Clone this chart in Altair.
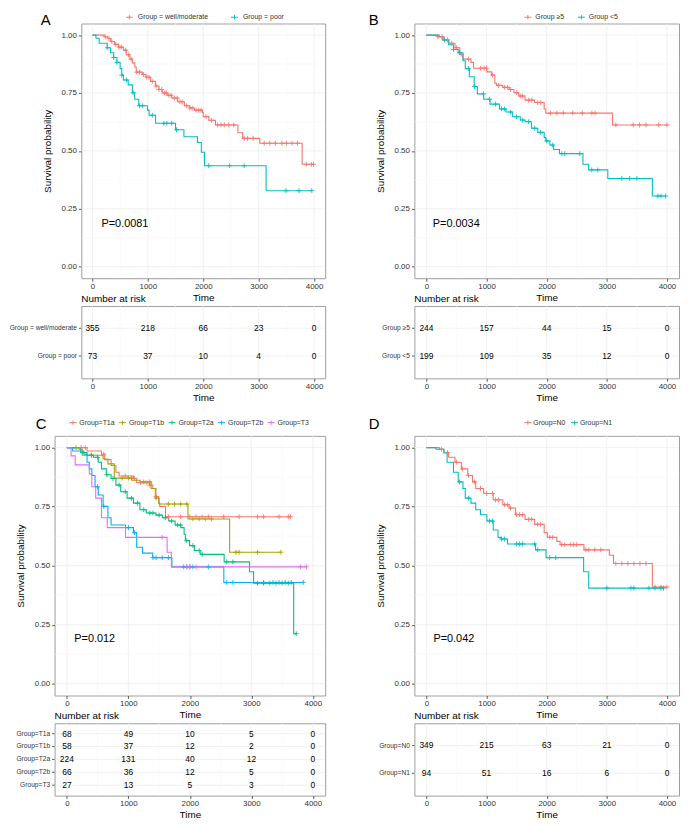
import altair as alt
import pandas as pd

FONT = "Liberation Sans"
FRAME = "#9E9E9E"
GRID_MAJ = "#EDEDED"
GRID_MIN = "#F6F6F6"
TXT = "#333333"

X_TICKS = [0, 1000, 2000, 3000, 4000]
X_MINOR = [500, 1500, 2500, 3500]
Y_TICKS = [0.0, 0.25, 0.5, 0.75, 1.0]
Y_MINOR = [0.125, 0.375, 0.625, 0.875]
X_DOMAIN = [-200, 4200]
Y_DOMAIN = [-0.05, 1.05]

RED = "#F8766D"
TEAL = "#00BFC4"
C_COLORS = ["#F8766D", "#A3A500", "#00BF7D", "#00B0F6", "#E76BF3"]

# ---------------- Panel A ----------------
A_groups = ["Group = well/moderate", "Group = poor"]
A_t1 = [0, 210, 280, 330, 400, 470, 560, 610, 675, 720, 765, 790, 900, 965, 1050, 1140, 1200, 1260,
        1350, 1430, 1540, 1660, 1750, 1840, 1985, 2000, 2100, 2220, 2625, 2710, 3020, 3785, 3990]
A_s1 = [1.0, 0.993, 0.985, 0.972, 0.960, 0.948, 0.935, 0.915, 0.896, 0.880, 0.862, 0.840, 0.830, 0.818,
        0.800, 0.780, 0.765, 0.750, 0.740, 0.728, 0.712, 0.695, 0.685, 0.676, 0.665, 0.648, 0.632, 0.612,
        0.578, 0.554, 0.533, 0.442, 0.442]
A_t2 = [0, 64, 122, 267, 326, 384, 442, 500, 529, 558, 645, 721, 762, 837, 994, 1023, 1140, 1500, 1651,
        1895, 1965, 2023, 3134, 3959]
A_s2 = [1.0, 0.986, 0.965, 0.945, 0.924, 0.903, 0.882, 0.855, 0.827, 0.806, 0.785, 0.751, 0.723, 0.695,
        0.675, 0.654, 0.619, 0.591, 0.561, 0.536, 0.494, 0.436, 0.328, 0.328]
A_c1 = [230, 300, 350, 420, 480, 520, 600, 650, 700, 800, 850, 920, 980, 1020, 1080, 1150, 1200, 1250,
        1300, 1330, 1380, 1420, 1480, 1530, 1580, 1620, 1700, 1760, 1800, 1870, 1920, 1960, 2050, 2150,
        2260, 2320, 2380, 2460, 2550, 2740, 2800, 2900, 3100, 3200, 3300, 3420, 3500, 3600, 3700, 3860,
        3950, 3990]
A_c2 = [267, 384, 442, 529, 616, 733, 849, 907, 1081, 1291, 1343, 1430, 1517, 2099, 2477, 2738, 3494,
        3727, 3959]
A_risk = [[355, 218, 66, 23, 0], [73, 37, 10, 4, 0]]

# ---------------- Panel B ----------------
B_groups = ["Group \u22655", "Group <5"]
B_t1 = [0, 185, 265, 370, 476, 556, 608, 741, 783, 1005, 1085, 1138, 1164, 1270, 1376, 1455, 1534, 1640,
        1799, 1958, 1985, 3095, 4000]
B_s1 = [1.0, 0.993, 0.979, 0.965, 0.945, 0.917, 0.896, 0.882, 0.857, 0.841, 0.827, 0.792, 0.783, 0.774,
        0.765, 0.751, 0.737, 0.719, 0.709, 0.681, 0.663, 0.612, 0.612]
B_t2 = [0, 212, 291, 370, 450, 529, 608, 646, 714, 794, 847, 952, 1058, 1217, 1323, 1429, 1561, 1640,
        1746, 1852, 1958, 1985, 2053, 2116, 2212, 2603, 2698, 3016, 3757, 3979]
B_s2 = [1.0, 0.993, 0.979, 0.958, 0.938, 0.924, 0.889, 0.855, 0.820, 0.778, 0.746, 0.723, 0.702, 0.681,
        0.668, 0.647, 0.633, 0.626, 0.598, 0.580, 0.557, 0.543, 0.525, 0.506, 0.488, 0.442, 0.418, 0.381,
        0.305, 0.305]
B_c1 = [190, 260, 350, 420, 500, 580, 700, 900, 960, 1000, 1100, 1200, 1300, 1350, 1400, 1500, 1560,
        1600, 1700, 1750, 1850, 1900, 2063, 2169, 2275, 2434, 2593, 2751, 2804, 3150, 3439, 3545, 3651,
        3862, 4000]
B_c2 = [300, 450, 550, 700, 800, 950, 1050, 1150, 1250, 1300, 1400, 1500, 1600, 1700, 1800, 1900, 2000,
        2100, 2250, 2300, 2550, 2750, 2850, 3250, 3380, 3500, 3850, 3900, 3979]
B_risk = [[244, 157, 44, 15, 0], [199, 109, 35, 12, 0]]

# ---------------- Panel C ----------------
C_groups = ["Group=T1a", "Group=T1b", "Group=T2a", "Group=T2b", "Group=T3"]
C_t1 = [0, 328, 563, 615, 719, 797, 849, 1083, 1135, 1344, 1396, 1448, 1490, 1510, 1604, 3635]
C_s1 = [1.0, 0.986, 0.972, 0.949, 0.924, 0.896, 0.880, 0.869, 0.851, 0.841, 0.827, 0.793, 0.765, 0.751,
        0.707, 0.707]
C_t2 = [0, 198, 250, 589, 667, 771, 1057, 1188, 1370, 1438, 1500, 1969, 2646, 3479]
C_s2 = [1.0, 0.993, 0.968, 0.952, 0.931, 0.871, 0.862, 0.855, 0.827, 0.786, 0.761, 0.698, 0.557, 0.557]
C_t3 = [0, 224, 328, 432, 510, 563, 641, 719, 797, 875, 979, 1083, 1188, 1292, 1448, 1552, 1656, 1760,
        1854, 1906, 1927, 1995, 2073, 2167, 2557, 2969, 3036, 3688, 3729]
C_s3 = [1.0, 0.979, 0.968, 0.959, 0.938, 0.910, 0.885, 0.869, 0.841, 0.813, 0.786, 0.765, 0.737, 0.723,
        0.714, 0.703, 0.689, 0.672, 0.661, 0.633, 0.606, 0.585, 0.564, 0.548, 0.516, 0.474, 0.426, 0.212,
        0.212]
C_t4 = [0, 94, 276, 328, 365, 406, 458, 510, 589, 667, 719, 953, 1083, 1135, 1229, 1396, 1708, 2552, 3844]
C_s4 = [1.0, 0.986, 0.972, 0.938, 0.910, 0.882, 0.834, 0.799, 0.751, 0.703, 0.672, 0.661, 0.640, 0.578,
        0.553, 0.534, 0.495, 0.429, 0.429]
C_t5 = [0, 68, 135, 365, 406, 469, 563, 656, 953, 1630, 1698, 3896]
C_s5 = [1.0, 0.965, 0.927, 0.889, 0.834, 0.786, 0.703, 0.661, 0.620, 0.557, 0.495, 0.495]
C_c1 = [230, 300, 600, 950, 1100, 1200, 1300, 1350, 1450, 1650, 1850, 2000, 2100, 2200, 2300, 2550,
        2800, 3100, 3200, 3450, 3600, 3635]
C_c2 = [150, 400, 900, 1000, 1050, 1250, 1350, 1450, 1650, 1750, 1850, 1950, 2050, 2150, 2250, 2350,
        2750, 2800, 3100, 3479]
C_c3 = [400, 500, 650, 750, 850, 950, 1050, 1150, 1250, 1350, 1400, 1500, 1600, 1700, 1800, 1850, 1950,
        2050, 2150, 2200, 2600, 2700, 3100, 3200, 3300, 3400, 3500, 3600, 3729]
C_c4 = [500, 600, 1000, 1100, 1400, 1450, 1550, 1650, 1900, 1950, 2000, 2050, 2300, 2600, 2700, 3200,
        3350, 3450, 3550, 3650, 3844]
C_c5 = [1550, 1950, 2000, 2100, 3800, 3896]
C_risk = [[68, 49, 10, 5, 0], [58, 37, 12, 2, 0], [224, 131, 40, 12, 0], [66, 36, 12, 5, 0],
          [27, 13, 5, 3, 0]]

# ---------------- Panel D ----------------
D_groups = ["Group=N0", "Group=N1"]
D_t1 = [0, 212, 291, 370, 476, 582, 688, 767, 820, 952, 1111, 1270, 1376, 1481, 1640, 1799, 1958, 2011,
        2169, 2222, 2619, 3042, 3111, 3757, 4000]
D_s1 = [1.0, 0.993, 0.979, 0.959, 0.938, 0.910, 0.882, 0.855, 0.827, 0.806, 0.779, 0.758, 0.744, 0.716,
        0.696, 0.675, 0.640, 0.620, 0.603, 0.589, 0.567, 0.544, 0.509, 0.409, 0.409]
D_t2 = [0, 159, 291, 344, 450, 529, 608, 646, 741, 820, 899, 1005, 1111, 1190, 1243, 1349, 1815, 1989,
        2614, 2698, 3942]
D_s2 = [1.0, 0.993, 0.979, 0.938, 0.896, 0.855, 0.827, 0.786, 0.765, 0.737, 0.716, 0.689, 0.651, 0.620,
        0.613, 0.592, 0.567, 0.534, 0.474, 0.405, 0.405]
D_c1 = [250, 350, 500, 600, 700, 800, 900, 1000, 1100, 1150, 1200, 1300, 1350, 1400, 1500, 1550, 1600,
        1700, 1750, 1850, 1900, 2050, 2100, 2250, 2300, 2400, 2450, 2500, 2650, 2700, 2800, 2900, 3150,
        3250, 3350, 3450, 3550, 3650, 3800, 3900, 4000]
D_c2 = [550, 700, 1050, 1100, 1250, 1300, 1500, 1550, 1600, 1800, 1850, 2050, 2150, 3000, 3400, 3450,
        3700, 3800, 3900, 3942]
D_risk = [[349, 215, 63, 21, 0], [94, 51, 16, 6, 0]]

CROSS = "M-1,0L1,0M0,-1L0,1"
KEY = "M-1,0L1,0M0,-0.6L0,0.6"


def step_at(ts, ss, t):
    v = ss[0]
    for ti, si in zip(ts, ss):
        if ti <= t:
            v = si
    return v


def indep(ch):
    return ch.resolve_scale(color="independent", x="independent", y="independent").resolve_legend(
        color="independent").resolve_axis(x="independent", y="independent")


def x_axis():
    return alt.Axis(values=X_TICKS, title="Time", grid=False, domain=False, format="d",
                    labelFontSize=8, titleFontSize=10, labelColor=TXT, titleColor="#000",
                    tickColor=TXT, tickSize=3, tickWidth=0.8, labelPadding=1, titlePadding=2,
                    titleFontWeight="normal", labelFont=FONT, titleFont=FONT)


def km_chart(key, groups, colors, T, S, C, w, h, leg_x, leg_y, col_pad, lab_off,
             pval, pt, ps, letter, lx, ly):
    gf = "grp" + key
    line_rows, cen_rows = [], []
    for g, ts, ss, cs in zip(groups, T, S, C):
        for t, s in zip(ts, ss):
            line_rows.append({gf: g, "t": t, "s": s})
        for c in cs:
            cen_rows.append({gf: g, "t": c, "s": step_at(ts, ss, c)})
    xs = alt.Scale(domain=X_DOMAIN, nice=False, zero=False)
    ys = alt.Scale(domain=Y_DOMAIN, nice=False, zero=False)
    cscale = alt.Scale(domain=groups, range=colors)
    ya = alt.Axis(values=Y_TICKS, format=".2f", title="Survival probability", grid=False,
                  domain=False, labelFontSize=8, titleFontSize=10, labelColor=TXT,
                  titleColor="#000", tickColor=TXT, tickSize=3, tickWidth=0.8, labelPadding=2,
                  titlePadding=9, titleFontWeight="normal", labelFont=FONT, titleFont=FONT)
    leg = alt.Legend(orient="none", legendX=leg_x, legendY=leg_y, direction="horizontal",
                     title=None, symbolType=KEY, symbolSize=50,
                     symbolStrokeWidth=1, symbolOpacity=1, labelFontSize=7, labelFont=FONT,
                     labelColor=TXT, columnPadding=col_pad, labelOffset=lab_off, padding=0)
    X = alt.X("t:Q", scale=xs, axis=x_axis())
    Y = alt.Y("s:Q", scale=ys, axis=ya)
    col = alt.Color(gf + ":N", scale=cscale, legend=leg)

    gx_min = alt.Chart(pd.DataFrame({"t": X_MINOR})).mark_rule(color=GRID_MIN, strokeWidth=0.6).encode(x=X)
    gx_maj = alt.Chart(pd.DataFrame({"t": X_TICKS})).mark_rule(color=GRID_MAJ, strokeWidth=0.8).encode(x=X)
    gy_min = alt.Chart(pd.DataFrame({"s": Y_MINOR})).mark_rule(color=GRID_MIN, strokeWidth=0.6).encode(y=Y)
    gy_maj = alt.Chart(pd.DataFrame({"s": Y_TICKS})).mark_rule(color=GRID_MAJ, strokeWidth=0.8).encode(y=Y)
    lines = alt.Chart(pd.DataFrame(line_rows)).mark_line(
        interpolate="step-after", strokeWidth=1.1).encode(x=X, y=Y, color=col)
    pts = alt.Chart(pd.DataFrame(cen_rows)).mark_point(
        shape=CROSS, size=24, strokeWidth=0.9, filled=False, opacity=1).encode(x=X, y=Y, color=col)
    ptxt = alt.Chart(pd.DataFrame({"t": [pt], "s": [ps], "label": [pval]})).mark_text(
        align="left", baseline="middle", fontSize=11, font=FONT, color="#000").encode(
        x=X, y=Y, text="label:N")
    let = alt.Chart(pd.DataFrame({"label": [letter]})).mark_text(
        align="left", baseline="alphabetic", fontSize=15, font=FONT, color="#000").encode(
        x=alt.value(lx), y=alt.value(ly), text="label:N")
    return alt.layer(gx_min, gx_maj, gy_min, gy_maj, lines, pts, ptxt, let).properties(
        width=w, height=h)


def risk_chart(key, groups, counts, w, h):
    rf = "row" + key
    rows = []
    for g, cs in zip(groups, counts):
        for t, c in zip(X_TICKS, cs):
            rows.append({rf: g, "t": t, "n": str(c)})
    xs = alt.Scale(domain=X_DOMAIN, nice=False, zero=False)
    ys = alt.Scale(domain=groups, padding=0.6)
    X = alt.X("t:Q", scale=xs, axis=x_axis())
    Y = alt.Y(rf + ":N", scale=ys,
              axis=alt.Axis(title=None, domain=False, grid=False, labelFontSize=6.7,
                            labelColor=TXT, tickColor=TXT, tickSize=3, tickWidth=0.8,
                            labelPadding=2, labelFont=FONT, labelLimit=300))
    gx_min = alt.Chart(pd.DataFrame({"t": X_MINOR})).mark_rule(color=GRID_MIN, strokeWidth=0.6).encode(x=X)
    gx_maj = alt.Chart(pd.DataFrame({"t": X_TICKS})).mark_rule(color=GRID_MAJ, strokeWidth=0.8).encode(x=X)
    gy = alt.Chart(pd.DataFrame({rf: groups})).mark_rule(color=GRID_MAJ, strokeWidth=0.8).encode(y=Y)
    txt = alt.Chart(pd.DataFrame(rows)).mark_text(
        fontSize=8.5, font=FONT, color="#000", baseline="middle").encode(x=X, y=Y, text="n:N")
    return alt.layer(gx_min, gx_maj, gy, txt).properties(
        width=w, height=h,
        title=alt.TitleParams("Number at risk", anchor="start", frame="group", fontSize=10,
                              font=FONT, fontWeight="normal", color="#000", offset=2))


KM_H_TOP = 257
KM_H_BOT = 262
RISK_H = 73
WA, WB, WC, WD = 246, 267, 273, 267

kmA = km_chart("A", A_groups, [RED, TEAL], [A_t1, A_t2], [A_s1, A_s2], [A_c1, A_c2], WA, KM_H_TOP,
               44, -11, 19, 4, "P=0.0081", 163, 0.186, "A", -41, 2)
kmB = km_chart("B", B_groups, [RED, TEAL], [B_t1, B_t2], [B_s1, B_s2], [B_c1, B_c2], WB, KM_H_TOP,
               110, -11, 10, 3, "P=0.0034", 106, 0.186, "B", -46, 2)
kmC = km_chart("C", C_groups, C_COLORS, [C_t1, C_t2, C_t3, C_t4, C_t5],
               [C_s1, C_s2, C_s3, C_s4, C_s5], [C_c1, C_c2, C_c3, C_c4, C_c5], WC, KM_H_BOT,
               14, -18, 1, 2, "P=0.012", 120, 0.188, "C", -19, -7)
kmD = km_chart("D", D_groups, [RED, TEAL], [D_t1, D_t2], [D_s1, D_s2], [D_c1, D_c2], WD, KM_H_BOT,
               110, -18, 2, 1, "P=0.042", 116, 0.19, "D", -46, -7)

rA = risk_chart("A", A_groups, A_risk, WA, RISK_H)
rB = risk_chart("B", B_groups, B_risk, WB, RISK_H)
rC = risk_chart("C", C_groups, C_risk, WC, RISK_H)
rD = risk_chart("D", D_groups, D_risk, WD, RISK_H)

pA = indep(alt.vconcat(kmA, rA, spacing=28, bounds="flush"))
pB = indep(alt.vconcat(kmB, rB, spacing=28, bounds="flush"))
pC = indep(alt.vconcat(kmC, rC, spacing=28, bounds="flush"))
pD = indep(alt.vconcat(kmD, rD, spacing=28, bounds="flush"))

spacer = alt.Chart(pd.DataFrame({"t": [0]})).mark_point(size=0, opacity=0).encode(
    x=alt.value(0), y=alt.value(0)).properties(
    width=1, height=1, view=alt.ViewBackground(strokeOpacity=0))

innerA = indep(alt.hconcat(spacer, pA, spacing=26, bounds="flush"))
rowTop = indep(alt.hconcat(innerA, pB, spacing=42))
rowBottom = indep(alt.hconcat(pC, pD, spacing=42))

chart = indep(alt.vconcat(rowTop, rowBottom, spacing=13)).properties(padding=0).configure(
    font=FONT).configure_view(stroke=FRAME, strokeWidth=1)

chart.save("out.html", embed_options={"renderer": "svg", "actions": False})
